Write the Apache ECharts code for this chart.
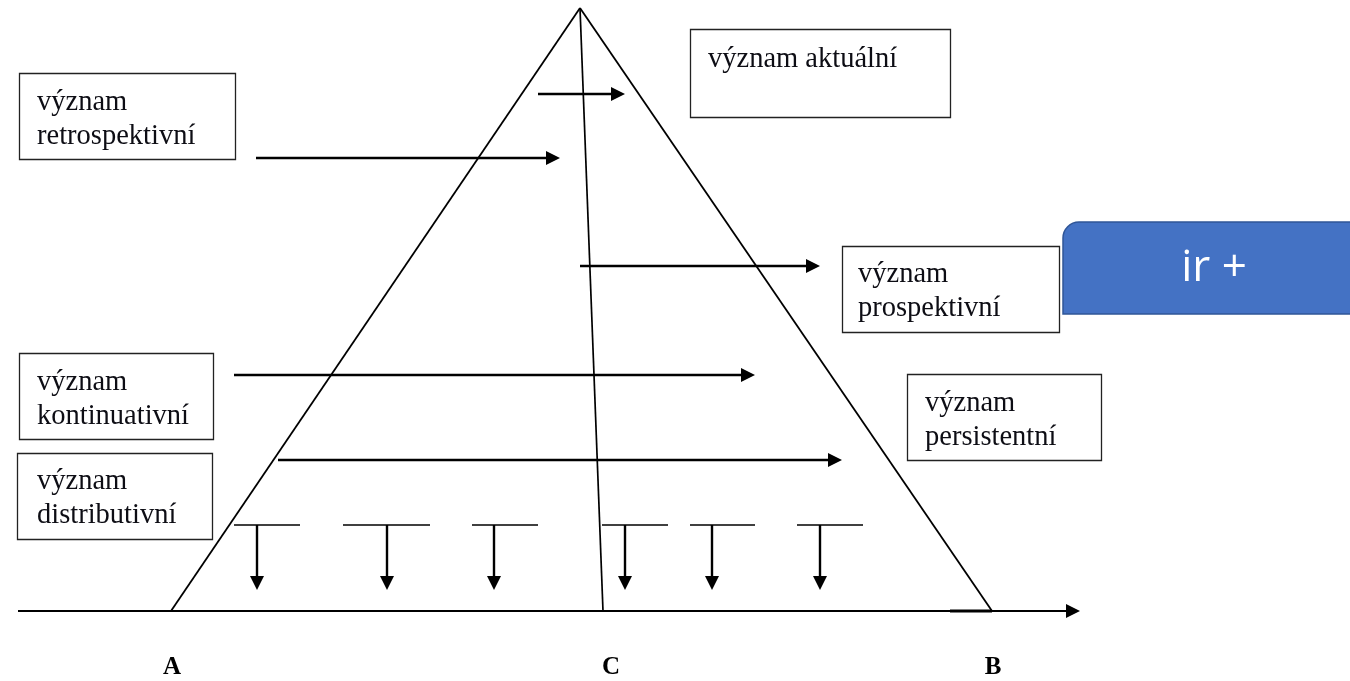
<!DOCTYPE html>
<html>
<head>
<meta charset="utf-8">
<script src="https://cdn.jsdelivr.net/npm/echarts@6/dist/echarts.min.js"></script>
<style>
  html, body { margin: 0; padding: 0; background: #fff; }
  #chart { width: 1350px; height: 681px; }
</style>
</head>
<body>
<div id="chart"></div>
<script>
// geometry of the diagram, in picture units (x right, y down)
const triangle = [[171, 611], [580, 8], [992, 611]]
const centerLine = [[580, 8], [603, 611]]
const baseLine = [[18, 611], [1080, 611]]
const baseAccent = [[950, 611], [992, 611]]
// horizontal arrows: x from, x to, y
const hArrows = [[538, 625, 94], [256, 560, 158], [580, 820, 266], [234, 755, 375], [278, 842, 460]]
// T arrows: bar from, bar to, stem x
const tArrows = [[234, 300, 257], [343, 430, 387], [472, 538, 494], [602, 668, 625], [690, 755, 712], [797, 863, 820]]
const tBarY = 525
const tTipY = 590

// text boxes
const boxNames = ['význam\nretrospektivní', 'význam aktuální', 'význam\nprospektivní', 'význam\nkontinuativní', 'význam\ndistributivní', 'význam\npersistentní']
const boxRects = [[19, 73, 216, 86], [690, 29, 260, 88], [842, 246, 217, 86], [19, 353, 194, 86], [17, 453, 195, 86], [907, 374, 194, 86]]
const boxTextPos = [[37, 86], [708, 43], [858, 258], [37, 366], [37, 465], [925, 387]]

// points under the base
const pointNames = ['A', 'C', 'B']
const pointX = [172, 611, 993]
const pointY = 668

// blue note on the right
const noteRect = [1063, 222, 300, 92]
const noteText = 'ir +'

// segments: x1, y1, x2, y2, arrow(0/1), line width
let segData = []
segData.push([triangle[0][0], triangle[0][1], triangle[1][0], triangle[1][1], 0, 1.8])
segData.push([triangle[1][0], triangle[1][1], triangle[2][0], triangle[2][1], 0, 1.8])
segData.push([centerLine[0][0], centerLine[0][1], centerLine[1][0], centerLine[1][1], 0, 1.7])
segData.push([baseLine[0][0], baseLine[0][1], baseLine[1][0], baseLine[1][1], 1, 2.2])
segData.push([baseAccent[0][0], baseAccent[0][1], baseAccent[1][0], baseAccent[1][1], 0, 3])
hArrows.forEach(a => segData.push([a[0], a[2], a[1], a[2], 1, 2.5]))
tArrows.forEach(t => {
  segData.push([t[0], tBarY, t[1], tBarY, 0, 1.5])
  segData.push([t[2], tBarY, t[2], tTipY, 1, 2.4])
})

const chart = echarts.init(document.getElementById('chart'))

function renderSeg(params, api) {
  let p1 = api.coord([api.value(0), api.value(1)])
  let p2 = api.coord([api.value(2), api.value(3)])
  let arrow = api.value(4)
  let w = api.value(5)
  let children = []
  let end = p2
  if (arrow) {
    let dx = p2[0] - p1[0], dy = p2[1] - p1[1]
    let len = Math.sqrt(dx * dx + dy * dy)
    dx /= len; dy /= len
    let hl = 14, hw = 7
    let bx = p2[0] - dx * hl, by = p2[1] - dy * hl
    end = [bx + dx * 2, by + dy * 2]
    children.push({
      type: 'polygon',
      shape: { points: [p2, [bx - dy * hw, by + dx * hw], [bx + dy * hw, by - dx * hw]] },
      style: { fill: '#000' }
    })
  }
  children.unshift({
    type: 'line',
    shape: { x1: p1[0], y1: p1[1], x2: end[0], y2: end[1] },
    style: { stroke: '#000', lineWidth: w }
  })
  return { type: 'group', children: children }
}

function renderBox(params, api) {
  let i = params.dataIndex
  let r = boxRects[i]
  let p = api.coord([r[0], r[1]])
  let q = api.coord([r[0] + r[2], r[1] + r[3]])
  let t = api.coord(boxTextPos[i])
  return {
    type: 'group',
    children: [
      {
        type: 'rect',
        shape: { x: p[0] + 0.5, y: p[1] + 0.5, width: q[0] - p[0], height: q[1] - p[1] },
        style: { fill: '#fff', stroke: '#222', lineWidth: 1.3 }
      },
      {
        type: 'text',
        x: t[0], y: t[1],
        style: {
          text: boxNames[i],
          font: '28.5px "Liberation Serif", "Times New Roman", serif',
          lineHeight: 34,
          fill: '#0d0d14',
          align: 'left',
          verticalAlign: 'top'
        }
      }
    ]
  }
}

function renderPoint(params, api) {
  let i = params.dataIndex
  let p = api.coord([pointX[i], pointY])
  return {
    type: 'text',
    x: p[0], y: p[1],
    style: {
      text: pointNames[i],
      font: 'bold 25px "Liberation Serif", "Times New Roman", serif',
      fill: '#000',
      align: 'center',
      verticalAlign: 'middle'
    }
  }
}

function renderNote(params, api) {
  let p = api.coord([noteRect[0], noteRect[1]])
  let q = api.coord([noteRect[0] + noteRect[2], noteRect[1] + noteRect[3]])
  return {
    type: 'group',
    children: [
      {
        type: 'rect',
        shape: { x: p[0], y: p[1], width: q[0] - p[0], height: q[1] - p[1], r: [16, 0, 0, 0] },
        style: { fill: '#4472C4', stroke: '#2F5597', lineWidth: 1.5 }
      },
      {
        type: 'text',
        x: p[0] + 151, y: p[1] + 46,
        style: {
          text: noteText,
          font: '44px "Open Sans", "Noto Sans", sans-serif',
          fill: '#fff',
          align: 'center',
          verticalAlign: 'middle'
        }
      }
    ]
  }
}

let option = {
  animation: false,
  backgroundColor: '#fff',
  grid: { left: 0, right: 0, top: 0, bottom: 0 },
  xAxis: { type: 'value', min: 0, max: 1350, show: false },
  yAxis: { type: 'value', min: 0, max: 681, inverse: true, show: false },
  series: [
    { type: 'custom', renderItem: renderSeg, data: segData, silent: true },
    { type: 'custom', renderItem: renderBox, data: boxRects.map(r => [r[0], r[1]]), silent: true },
    { type: 'custom', renderItem: renderPoint, data: pointX.map(x => [x, pointY]), silent: true },
    { type: 'custom', renderItem: renderNote, data: [[noteRect[0], noteRect[1]]], silent: true }
  ]
}
chart.setOption(option)
</script>
</body>
</html>
